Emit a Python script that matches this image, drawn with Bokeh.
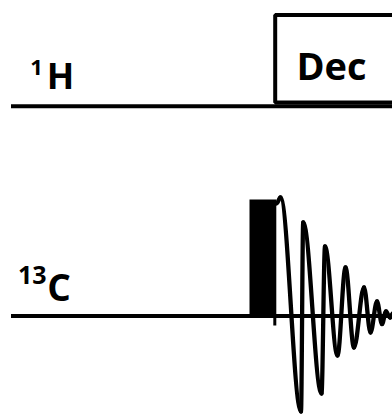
from bokeh.plotting import figure
from bokeh.models import Range1d, ColumnDataSource
from bokeh.core.properties import value
from bokeh.embed import file_html
from bokeh.resources import INLINE

# ---- data (diagram units = reference pixels, y grows downward) ----
channel_names = ["1H", "13C"]
baseline_y = [105.8, 315.5]
baseline_x0 = [10.5, 10.5]
baseline_x1 = [420, 420]

iso_mass = ["1", "13"]
iso_mass_x = [36.0, 31.7]
iso_mass_y = [66.5, 274.5]
iso_mass_size = ["22px", "25px"]

iso_symbol = ["H", "C"]
iso_symbol_x = [60.0, 58.5]
iso_symbol_y = [75.3, 286.2]
iso_symbol_size = ["36px", "37px"]

dec_left = [274.7]
dec_right = [430.0]
dec_top = [14.5]
dec_bottom = [102.0]
dec_text = ["Dec"]
dec_text_x = [331.0]
dec_text_y = [64.0]

pulse_left = [249.0]
pulse_right = [275.8]
pulse_top = [199.0]
pulse_bottom = [315.5]
pulse_tick_x = [274.3]
pulse_tick_y0 = [315.5]
pulse_tick_y1 = [325.0]

# FID extrema (start, then alternating peaks / troughs)
fid_x = [276.0, 280.0, 300.5, 302.7, 321.0, 324.5, 337.0, 345.0, 353.5,
         363.5, 370.0, 376.5, 381.5, 385.5, 389.5, 392.5, 396.0]
fid_y = [203.0, 197.0, 411.0, 222.0, 393.0, 246.0, 355.0, 267.0, 347.0,
         287.0, 332.0, 301.0, 323.5, 311.0, 317.0, 313.0, 316.0]

# ---- figure ----
p = figure(width=392, height=414, output_backend="svg", toolbar_location=None,
           x_range=Range1d(0, 392), y_range=Range1d(414, 0),
           min_border=0)
p.axis.visible = False
p.grid.visible = False
p.outline_line_color = None
p.background_fill_color = "white"
p.border_fill_color = "white"

# channel baselines
p.segment(x0=baseline_x0, y0=baseline_y, x1=baseline_x1, y1=baseline_y,
          line_color="black", line_width=4)

# decoupling block
p.quad(left=dec_left, right=dec_right, top=dec_top, bottom=dec_bottom,
       fill_color="white", line_color="black", line_width=4)
p.text(x=dec_text_x, y=dec_text_y, text=dec_text, text_align="center",
       text_baseline="middle", text_font=value("Open Sans"),
       text_font_style="bold", text_font_size=value("38px"), text_color="black")

# 13C pulse
p.quad(left=pulse_left, right=pulse_right, top=pulse_top, bottom=pulse_bottom,
       fill_color="black", line_color=None)
p.segment(x0=pulse_tick_x, y0=pulse_tick_y0, x1=pulse_tick_x, y1=pulse_tick_y1,
          line_color="black", line_width=3)

# FID as smooth curve segments between extrema (horizontal tangents at extrema)
k = 0.36
bx0, by0, bx1, by1, c0x, c0y, c1x, c1y = [], [], [], [], [], [], [], []
for i in range(len(fid_x) - 1):
    xa, ya, xb, yb = fid_x[i], fid_y[i], fid_x[i + 1], fid_y[i + 1]
    dx = xb - xa
    bx0.append(xa); by0.append(ya); bx1.append(xb); by1.append(yb)
    c0x.append(xa + k * dx); c0y.append(ya)
    c1x.append(xb - k * dx); c1y.append(yb)
p.bezier(x0=bx0, y0=by0, x1=bx1, y1=by1, cx0=c0x, cy0=c0y, cx1=c1x, cy1=c1y,
         line_color="black", line_width=4.3, line_cap="round")

# channel labels
mass_src = ColumnDataSource(dict(x=iso_mass_x, y=iso_mass_y, t=iso_mass, s=iso_mass_size))
p.text(x="x", y="y", text="t", text_font_size="s", source=mass_src,
       text_align="center", text_baseline="middle",
       text_font=value("Open Sans"), text_font_style="bold", text_color="black")
sym_src = ColumnDataSource(dict(x=iso_symbol_x, y=iso_symbol_y, t=iso_symbol, s=iso_symbol_size))
p.text(x="x", y="y", text="t", text_font_size="s", source=sym_src,
       text_align="center", text_baseline="middle",
       text_font=value("Open Sans"), text_font_style="bold", text_color="black")

open("out.html", "w").write(file_html(p, INLINE))
